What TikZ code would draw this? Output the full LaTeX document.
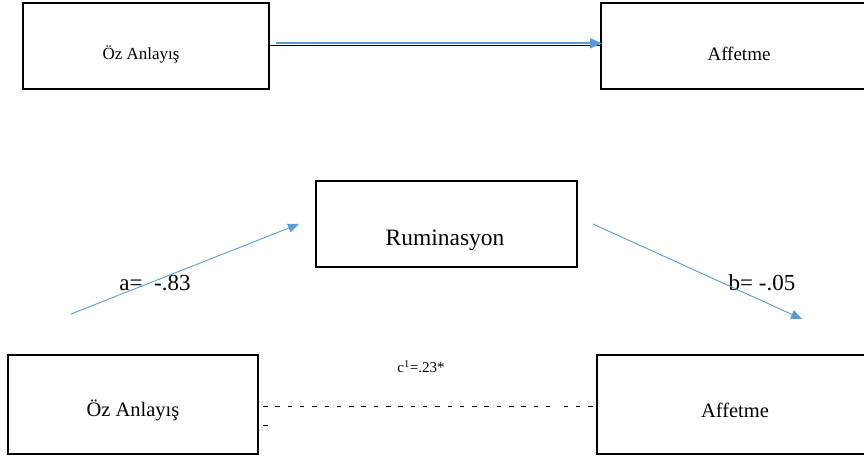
\documentclass[tikz,border=0pt]{standalone}
\usepackage{fontspec}
\setmainfont{Liberation Serif}
\usetikzlibrary{arrows.meta}
\definecolor{arrblue}{HTML}{5B9BD5}
\tikzset{
  box/.style={draw=black, line width=1.3pt, rectangle},
  lbl/.style={inner sep=0pt, anchor=center},
  barrow/.style={draw=arrblue, line width=0.9pt, -{Triangle[length=11pt,width=9pt]}},
}
\newcommand{\fs}[1]{\fontsize{#1pt}{#1pt}\selectfont}
\begin{document}
\begin{tikzpicture}[x=1pt,y=-1pt]
\useasboundingbox (0,0) rectangle (864,456);
% boxes
\draw[box] (23,3) rectangle (269,89);
\draw[box] (601,3) rectangle (868,89);
\draw[box] (316,181) rectangle (577,267);
\draw[box] (8,355) rectangle (258,454);
\draw[box] (597,355) rectangle (868,454);
% box anchors
\coordinate (tlR) at (269,45.5);
\coordinate (trL) at (601,45.5);
% texts
\node[lbl, font=\fs{17}] (t1) at (141,54) {Öz Anlayış};
\node[lbl, font=\fs{19}] (t2) at (739,54) {Affetme};
\node[lbl, font=\fs{23.5}] (t3) at (445,240) {Ruminasyon};
\node[lbl, font=\fs{20.5}] (t4) at (133,410) {Öz Anlayış};
\node[lbl, font=\fs{20.5}] (t5) at (735,410) {Affetme};
\node[lbl, font=\fs{23}] (la) at (155,283) {a=\ \ -.83};
\node[lbl, font=\fs{23}] (lb) at (762,283) {b= -.05};
\node[lbl, font=\fs{15}] (lc) at (421,367) {c\textsuperscript{1}=.23*};
% top arrow (black under blue)
\draw[black, line width=1.2pt] (tlR) -- (trL);
\coordinate (tbs) at (276,43.3);
\coordinate (tbe) at (602,43.3);
\draw[draw=arrblue, line width=1.8pt, -{Triangle[length=12pt,width=10pt]}] (tbs) -- (tbe);
% a and b arrows
\coordinate (as) at (71,314);
\coordinate (ae) at (299,224);
\draw[barrow] (as) -- (ae);
\coordinate (bs) at (593,224);
\coordinate (be) at (802,319);
\draw[barrow] (bs) -- (be);
% dashed line
\coordinate (d1) at (263,406.5);
\coordinate (d2) at (556,406.5);
\coordinate (d3) at (563.5,406.5);
\coordinate (d4) at (596,406.5);
\draw[black, line width=0.8pt, dash pattern=on 4.5pt off 7.8pt] (d1) -- (d2);
\draw[black, line width=0.8pt, dash pattern=on 4.5pt off 7.8pt] (d3) -- (d4);
\coordinate (d5) at (263,425);
\coordinate (d6) at (267.5,425);
\draw[black, line width=0.8pt] (d5) -- (d6);
\end{tikzpicture}
\end{document}
